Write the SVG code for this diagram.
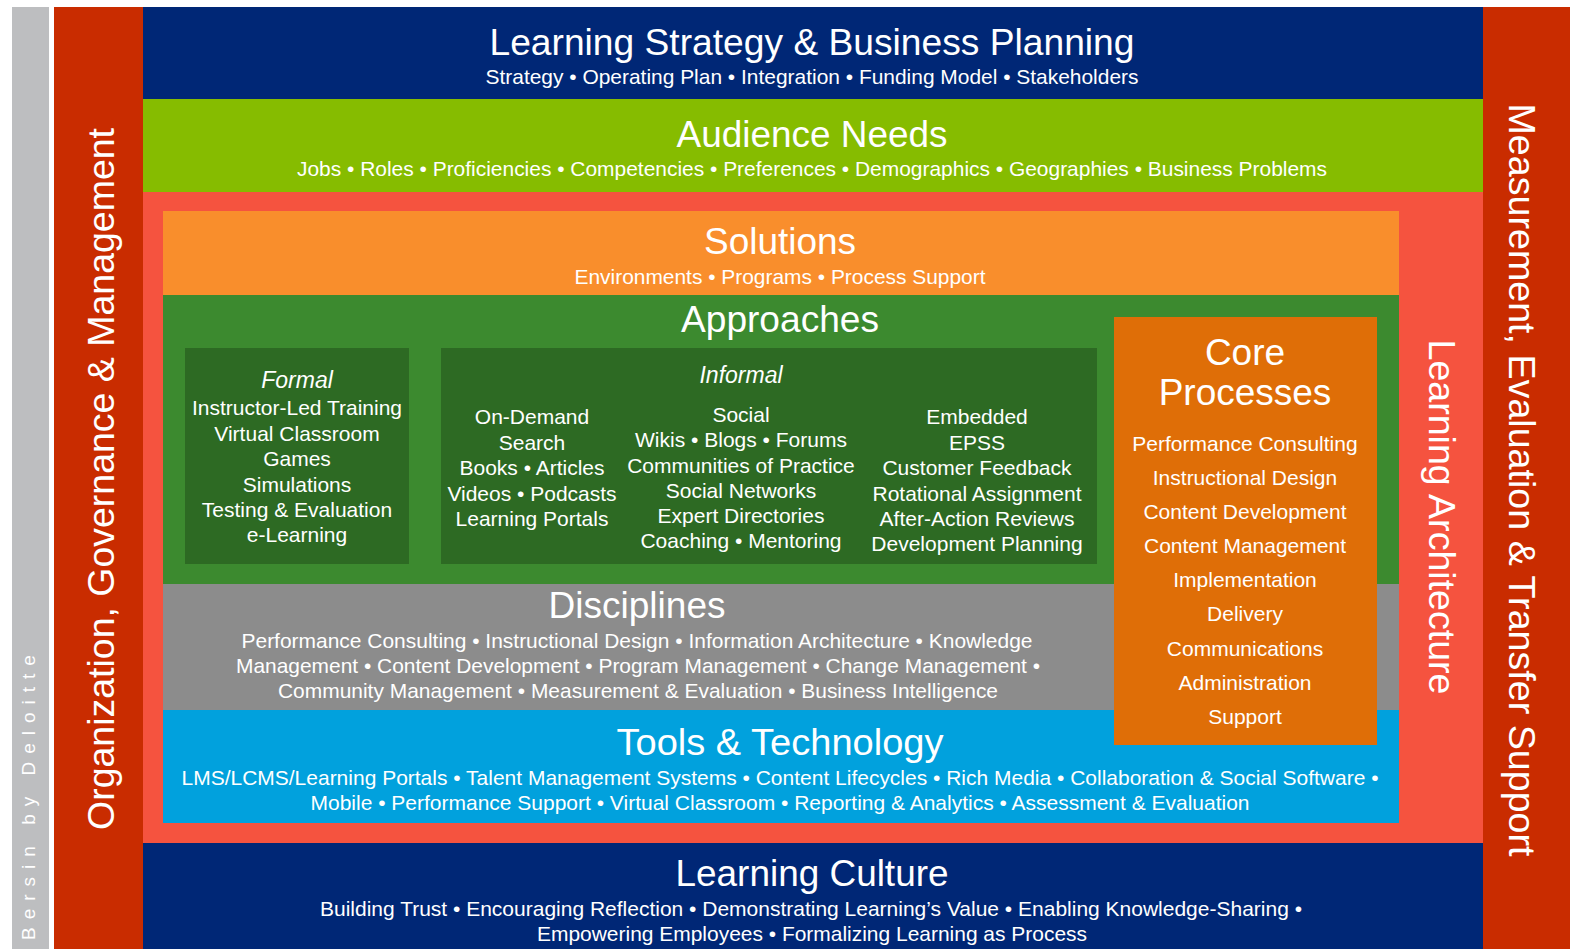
<svg xmlns="http://www.w3.org/2000/svg" width="1570" height="949" viewBox="0 0 1570 949">
<style>
text{font-family:"Liberation Sans",Arial,sans-serif;fill:#ffffff;text-anchor:middle}
.h{font-size:37px}
.s{font-size:21px}
.it{font-size:23px;font-style:italic}
.v{font-size:37.5px}
</style>
<rect width="1570" height="949" fill="#ffffff"/>
<g id="bersin">
<rect x="12" y="7" width="37" height="942" fill="#BDBEC0"/>
<text transform="translate(35,940) rotate(-90)" style="font-size:19px;letter-spacing:8px;text-anchor:start">Bersin by Deloitte</text>
</g>
<g id="organization">
<rect x="54" y="7" width="89" height="942" fill="#C92C00"/>
<text class="v" transform="translate(114,479) rotate(-90)" textLength="702" lengthAdjust="spacingAndGlyphs">Organization, Governance &amp; Management</text>
</g>
<g id="measurement">
<rect x="1483" y="7" width="87" height="942" fill="#C92C00"/>
<text class="v" transform="translate(1509,480) rotate(90)" textLength="753" lengthAdjust="spacingAndGlyphs">Measurement, Evaluation &amp; Transfer Support</text>
</g>
<g id="strategy">
<rect x="143" y="7" width="1340" height="92" fill="#002776"/>
<text class="h" x="812" y="55" textLength="645" lengthAdjust="spacingAndGlyphs">Learning Strategy &amp; Business Planning</text>
<text class="s" x="812" y="84" textLength="653" lengthAdjust="spacingAndGlyphs">Strategy • Operating Plan • Integration • Funding Model • Stakeholders</text>
</g>
<g id="audience">
<rect x="143" y="99" width="1340" height="93" fill="#86BC00"/>
<text class="h" x="812" y="147" textLength="271" lengthAdjust="spacingAndGlyphs">Audience Needs</text>
<text class="s" x="812" y="176" textLength="1030" lengthAdjust="spacingAndGlyphs">Jobs • Roles • Proficiencies • Competencies • Preferences • Demographics • Geographies • Business Problems</text>
</g>
<g id="architecture">
<rect x="143" y="192" width="1340" height="651" fill="#F5533F"/>
<text class="v" transform="translate(1429,517) rotate(90)" textLength="355" lengthAdjust="spacingAndGlyphs">Learning Architecture</text>
</g>
<g id="solutions">
<rect x="163" y="211" width="1236" height="84" fill="#F98E2C"/>
<text class="h" x="780" y="254" textLength="152" lengthAdjust="spacingAndGlyphs">Solutions</text>
<text class="s" x="780" y="284" textLength="411" lengthAdjust="spacingAndGlyphs">Environments • Programs • Process Support</text>
</g>
<g id="approaches">
<rect x="163" y="295" width="1236" height="289" fill="#3C8A2F"/>
<text class="h" x="780" y="332" textLength="198" lengthAdjust="spacingAndGlyphs">Approaches</text>
</g>
<g id="formal">
<rect x="185" y="348" width="224" height="216" fill="#2D6A23"/>
<text class="it" x="297" y="388">Formal</text>
<text class="s" x="297" y="415">Instructor-Led Training</text>
<text class="s" x="297" y="441">Virtual Classroom</text>
<text class="s" x="297" y="466">Games</text>
<text class="s" x="297" y="492">Simulations</text>
<text class="s" x="297" y="517">Testing &amp; Evaluation</text>
<text class="s" x="297" y="542">e-Learning</text>
</g>
<g id="informal">
<rect x="441" y="348" width="656" height="216" fill="#2D6A23"/>
<text class="it" x="741" y="383">Informal</text>
<text class="s" x="532" y="424">On-Demand</text>
<text class="s" x="532" y="450">Search</text>
<text class="s" x="532" y="475">Books • Articles</text>
<text class="s" x="532" y="501">Videos • Podcasts</text>
<text class="s" x="532" y="526">Learning Portals</text>
<text class="s" x="741" y="422">Social</text>
<text class="s" x="741" y="447">Wikis • Blogs • Forums</text>
<text class="s" x="741" y="473">Communities of Practice</text>
<text class="s" x="741" y="498">Social Networks</text>
<text class="s" x="741" y="523">Expert Directories</text>
<text class="s" x="741" y="548">Coaching • Mentoring</text>
<text class="s" x="977" y="424">Embedded</text>
<text class="s" x="977" y="450">EPSS</text>
<text class="s" x="977" y="475">Customer Feedback</text>
<text class="s" x="977" y="501">Rotational Assignment</text>
<text class="s" x="977" y="526">After-Action Reviews</text>
<text class="s" x="977" y="551">Development Planning</text>
</g>
<g id="disciplines">
<rect x="163" y="584" width="1236" height="126" fill="#8C8C8C"/>
<text class="h" x="637" y="618" textLength="177" lengthAdjust="spacingAndGlyphs">Disciplines</text>
<text class="s" x="637" y="648" textLength="791" lengthAdjust="spacingAndGlyphs">Performance Consulting • Instructional Design • Information Architecture • Knowledge</text>
<text class="s" x="638" y="673" textLength="804" lengthAdjust="spacingAndGlyphs">Management • Content Development • Program Management • Change Management •</text>
<text class="s" x="638" y="698" textLength="720" lengthAdjust="spacingAndGlyphs">Community Management • Measurement &amp; Evaluation • Business Intelligence</text>
</g>
<g id="tools">
<rect x="163" y="710" width="1236" height="113" fill="#01A1DD"/>
<text class="h" x="780" y="755" textLength="327" lengthAdjust="spacingAndGlyphs">Tools &amp; Technology</text>
<text class="s" x="780" y="785" textLength="1197" lengthAdjust="spacingAndGlyphs">LMS/LCMS/Learning Portals • Talent Management Systems • Content Lifecycles • Rich Media • Collaboration &amp; Social Software •</text>
<text class="s" x="780" y="810" textLength="939" lengthAdjust="spacingAndGlyphs">Mobile • Performance Support • Virtual Classroom • Reporting &amp; Analytics • Assessment &amp; Evaluation</text>
</g>
<g id="core">
<rect x="1114" y="317" width="263" height="428" fill="#DF6E07"/>
<text class="h" x="1245" y="365">Core</text>
<text class="h" x="1245" y="405">Processes</text>
<text class="s" x="1245" y="451">Performance Consulting</text>
<text class="s" x="1245" y="485">Instructional Design</text>
<text class="s" x="1245" y="519">Content Development</text>
<text class="s" x="1245" y="553">Content Management</text>
<text class="s" x="1245" y="587">Implementation</text>
<text class="s" x="1245" y="621">Delivery</text>
<text class="s" x="1245" y="656">Communications</text>
<text class="s" x="1245" y="690">Administration</text>
<text class="s" x="1245" y="724">Support</text>
</g>
<g id="culture">
<rect x="143" y="843" width="1340" height="106" fill="#002776"/>
<text class="h" x="812" y="886" textLength="273" lengthAdjust="spacingAndGlyphs">Learning Culture</text>
<text class="s" x="811" y="916" textLength="982" lengthAdjust="spacingAndGlyphs">Building Trust • Encouraging Reflection • Demonstrating Learning’s Value • Enabling Knowledge-Sharing •</text>
<text class="s" x="812" y="941" textLength="550" lengthAdjust="spacingAndGlyphs">Empowering Employees • Formalizing Learning as Process</text>
</g>
<g id="connectors"></g>
</svg>
